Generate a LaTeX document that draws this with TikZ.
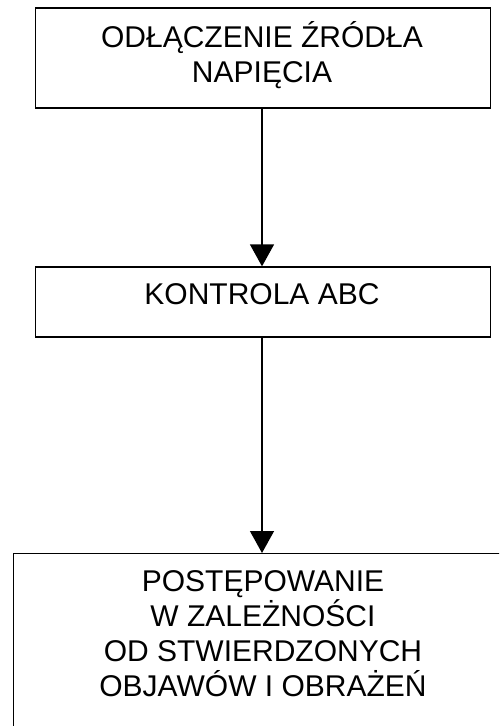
\documentclass[tikz,border=0pt]{standalone}
\usepackage{fontspec}
\setmainfont{Liberation Sans}
\usetikzlibrary{arrows.meta}
\begin{document}
\begin{tikzpicture}[x=1pt,y=-1pt,
  box/.style={draw=black, line width=1.3pt, rectangle, inner sep=0pt, align=center,
    font=\fontsize{30}{35}\selectfont},
  txt/.style={inner sep=0pt, align=center, font=\fontsize{30}{35}\selectfont},
  conn/.style={line width=1.3pt, -{Triangle[length=22pt,width=24pt]}}]
\useasboundingbox (0,0) rectangle (499,726);
\clip (0,0) rectangle (499,726);
\fill[white] (0,0) rectangle (499,726);
\node[box, minimum width=455pt, minimum height=100pt] (b1) at (263,58) {};
\node[txt] (t1) at (262,55) {ODŁĄCZENIE ŹRÓDŁA\\NAPIĘCIA};
\node[box, minimum width=455pt, minimum height=70pt] (b2) at (263,302) {};
\node[txt] (t2) at (262,294) {KONTROLA ABC};
\node[box, minimum width=500pt, minimum height=260pt, anchor=north west] (b3) at (13,553) {};
\node[txt] (t3) at (263,634) {POSTĘPOWANIE\\W ZALEŻNOŚCI\\OD STWIERDZONYCH\\OBJAWÓW I OBRAŻEŃ};
\draw[conn] (b1.south -| t1) -- (b2.north -| t1);
\draw[conn] (b2.south -| t1) -- (b3.north -| t1);
\end{tikzpicture}
\end{document}
